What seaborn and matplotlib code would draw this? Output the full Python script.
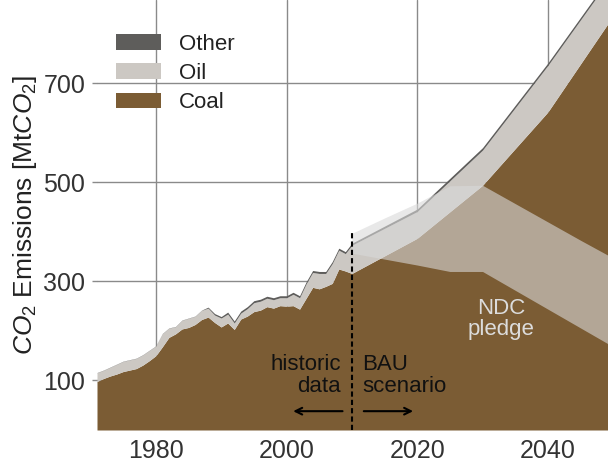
import numpy as np
import pandas as pd
import matplotlib
matplotlib.use("Agg")
import matplotlib.pyplot as plt
from matplotlib.patches import Patch
import seaborn as sns

# ---------------- data ----------------
hist_years = list(range(1971, 2011))
hist_coal = [98, 104, 109, 113, 118, 121, 124, 131, 140, 150,
             168, 187, 194, 204, 207, 213, 223, 228, 217, 208,
             216, 203, 224, 230, 239, 242, 249, 246, 251, 250,
             251, 244, 266, 288, 285, 290, 296, 325, 321, 316]
hist_total = [116, 121, 127, 133, 139, 142, 145, 152, 161, 170,
              195, 206, 209, 222, 226, 230, 242, 248, 235, 229,
              238, 220, 240, 249, 261, 264, 270, 267, 271, 271,
              278, 271, 299, 322, 320, 320, 340, 367, 360, 377]
hist_other = [0.5] * 17 + [2, 3, 3] + [4] * 20

bau_years = [2020, 2030, 2040, 2050]
bau_coal = [387, 494, 642, 836]
bau_total = [446, 570, 741, 925]
bau_other = [5, 5, 5, 5]

ndc_years = [2010, 2015, 2020, 2025, 2030, 2035, 2040, 2045, 2050]
ndc_low = [357, 345, 333, 320, 320, 282, 244, 206, 168]
ndc_high = [397, 428, 458, 493, 494, 457, 420, 383, 347]

labels = ["Coal", "Oil", "Other"]
colors = {"Coal": "#7b5c34", "Oil": "#ccc8c3", "Other": "#5e5d5b"}

xticks = [1980, 2000, 2020, 2040]
yticks = [100, 300, 500, 700]

# ---------------- frame ----------------
years = hist_years + bau_years
coal = np.array(hist_coal + bau_coal, dtype=float)
total = np.array(hist_total + bau_total, dtype=float)
other = np.array(hist_other + bau_other, dtype=float)
oil = total - coal - other
df = pd.DataFrame({"year": years, "Coal": coal, "Oil": oil, "Other": other})

sns.set_theme(style="whitegrid")
plt.rcParams["font.family"] = ["Liberation Sans", "DejaVu Sans"]
plt.rcParams["mathtext.fontset"] = "custom"
plt.rcParams["mathtext.rm"] = "Liberation Sans"
plt.rcParams["mathtext.it"] = "Liberation Sans:italic"

fig = plt.figure(figsize=(6.08, 4.65), dpi=100)
ax = fig.add_axes([97 / 608, 35 / 465, 511 / 608, 430 / 465])

ax.stackplot(df["year"], df["Coal"], df["Oil"], df["Other"],
             colors=[colors[l] for l in labels], linewidth=0, zorder=2)
ax.fill_between(ndc_years, ndc_low, ndc_high, color="#d9d9d9", alpha=0.6,
                linewidth=0, zorder=3)

ax.plot([2010, 2010], [0, 398], color="black", lw=1.5, ls=(0, (2.5, 1.5)), zorder=4)

ax.annotate("", xy=(2000.6, 38), xytext=(2009.0, 38),
            arrowprops=dict(arrowstyle="->", lw=1.5, color="black"), zorder=5)
ax.annotate("", xy=(2019.8, 38), xytext=(2011.4, 38),
            arrowprops=dict(arrowstyle="->", lw=1.5, color="black"), zorder=5)

ax.text(2008.3, 110, "historic\ndata", ha="right", va="center", fontsize=16,
        linespacing=1.08, color="#111111", zorder=6)
ax.text(2011.6, 110, "BAU\nscenario", ha="left", va="center", fontsize=16,
        linespacing=1.08, color="#111111", zorder=6)
ax.text(2032.8, 225, "NDC\npledge", ha="center", va="center", fontsize=16,
        linespacing=1.0, color="#dcdcdc", zorder=6)

ax.set_xlim(1971, 2049.2)
ax.set_ylim(0, 868)
ax.set_xticks(xticks)
ax.set_yticks(yticks)
ax.tick_params(axis="both", labelsize=18, labelcolor="#333333")
ax.tick_params(axis="y", left=True, length=3.5, width=1, color="#8a8a8a", pad=5)
ax.tick_params(axis="x", bottom=False, pad=0.5)
for s in ax.spines.values():
    s.set_visible(False)
ax.grid(True, color="#8a8a8a", lw=1)
ax.set_axisbelow(True)

ax.set_ylabel("$CO_2$ Emissions [Mt$CO_2$]", fontsize=19, color="#222222", labelpad=3)
ax.set_xlabel("")

handles = [Patch(facecolor=colors[l], edgecolor="none", label=l) for l in ["Other", "Oil", "Coal"]]
leg = ax.legend(handles=handles, loc="upper left", bbox_to_anchor=(0.038, 0.922),
                frameon=False, fontsize=16, handlelength=2.0, handleheight=0.7,
                handletextpad=0.8, labelspacing=0.38, borderpad=0, borderaxespad=0)
for t in leg.get_texts():
    t.set_color("#222222")

fig.savefig("out.png", dpi=100)
